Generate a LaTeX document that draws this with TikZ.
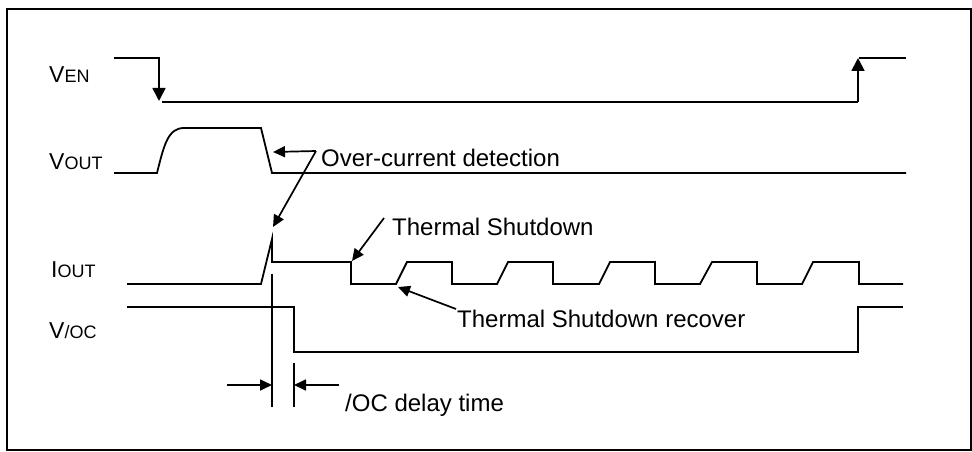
\documentclass[tikz,border=0pt]{standalone}
\usepackage{fontspec}
\setmainfont{Liberation Sans}
\usetikzlibrary{arrows.meta}
\newcommand{\subcap}[1]{{\fontsize{18}{21}\selectfont #1}}

\begin{document}
\begin{tikzpicture}[x=1pt, y=-1pt,
  wave/.style={line width=1.8pt, line join=miter},
  pointer/.style={line width=1.7pt, -{Triangle[length=12pt,width=11pt]}},
  sig/.style={anchor=base west, inner sep=0pt, font=\fontsize{23}{27}\selectfont},
  note/.style={anchor=base west, inner sep=0pt, font=\fontsize{24}{28}\selectfont}
]
\useasboundingbox (0,0) rectangle (972,452);
\draw[line width=2pt] (7,9) rectangle (971,450);

% signal names
\node[sig] (ven) at (49,82) {V\subcap{EN}};
\node[sig] (vout) at (49,169) {V\subcap{OUT}};
\node[sig] (iout) at (51,277) {I\subcap{OUT}};
\node[sig] (voc) at (49,338) {V\subcap{/OC}};

% waveforms
\draw[wave, -{Triangle[length=13pt,width=13pt]}] (114,58) -- (159,58) -- (159,101);
\draw[wave] (162,102) -- (858,102);
\draw[wave, -{Triangle[length=13pt,width=13pt]}] (858,102) -- (858,58);
\draw[wave] (859,58) -- (906,58);

\draw[wave] (114,173) -- (157,173) .. controls (164,145) and (168,128) .. (184,128)
  -- (261,128) -- (272,173) -- (906,173);

\draw[wave] (127,284) -- (261,284) -- (272,239) -- (272,262) -- (351,262) -- (351,284)
  -- (396,284) -- (407,262) -- (452,262) -- (452,284)
  -- (497,284) -- (508,262) -- (553,262) -- (553,284)
  -- (599,284) -- (610,262) -- (655,262) -- (655,284)
  -- (700,284) -- (712,262) -- (757,262) -- (757,284)
  -- (802,284) -- (813,262) -- (859,262) -- (859,284) -- (903,284);

\draw[wave] (127,307) -- (294,307) -- (294,352) -- (858,352) -- (858,307) -- (903,307);

% delay markers
\coordinate (trip) at (272,274);
\coordinate (tripend) at (272,407);
\coordinate (release) at (294,363);
\coordinate (releaseend) at (294,407);
\draw[wave] (trip) -- (tripend);
\draw[wave] (release) -- (releaseend);
\coordinate (dimleft) at (227,385);
\coordinate (dimright) at (339,385);
\draw[pointer] (dimleft) -- (272,385);
\draw[pointer] (dimright) -- (294,385);

% annotations
\node[note] (ocd) at (321,166) {Over-current detection};
\node[note] (tsd) at (392,235) {Thermal Shutdown};
\node[note] (tsr) at (457,327) {Thermal Shutdown recover};
\node[note] (delay) at (345,411) {/OC delay time};

\coordinate (ocbend) at (316,151);
\coordinate (voutfall) at (273,152);
\coordinate (ipeak) at (273,227);
\coordinate (tsdstart) at (384,218);
\coordinate (tsdfall) at (352,261);
\coordinate (tsrstart) at (456,309);
\coordinate (tsrrise) at (398,287);
\draw[pointer] (ocbend) -- (voutfall);
\draw[pointer] (ocbend) -- (ipeak);
\draw[pointer] (tsdstart) -- (tsdfall);
\draw[pointer] (tsrstart) -- (tsrrise);
\end{tikzpicture}
\end{document}
